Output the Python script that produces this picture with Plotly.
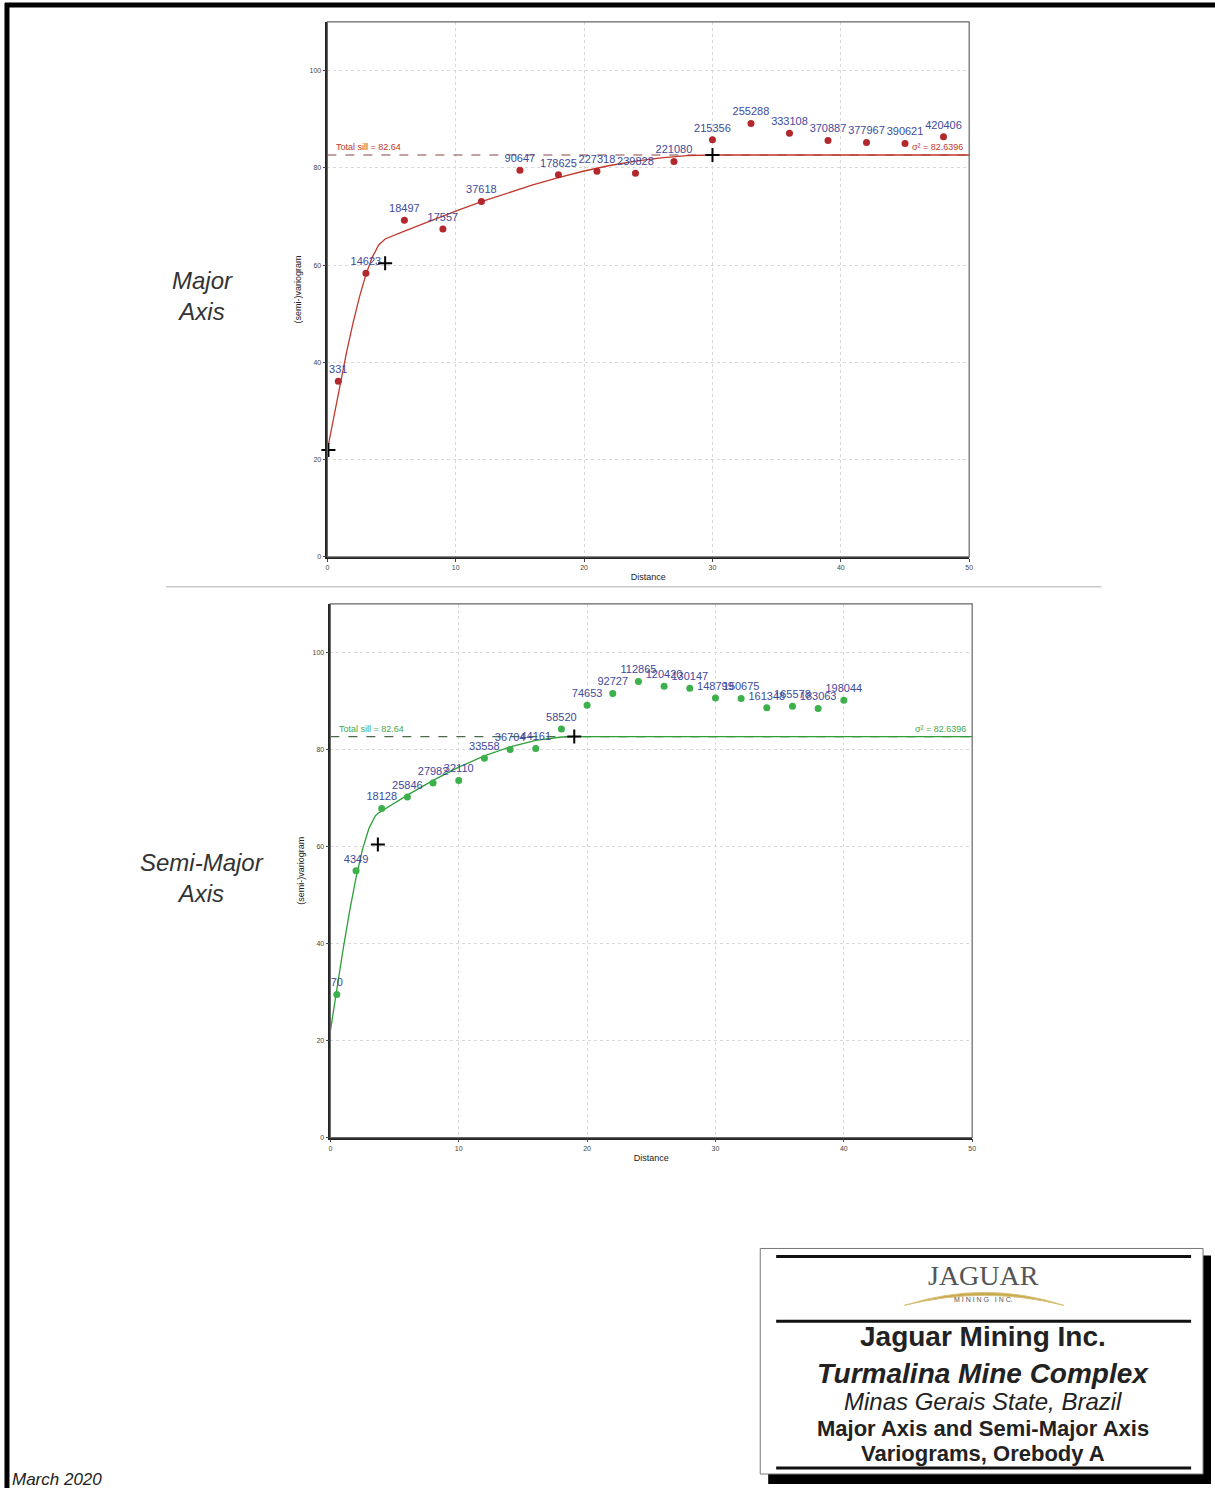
import plotly.graph_objects as go

W, H = 1215, 1488

# ---------------- Data: Major axis (top chart) ----------------
major_lag = [0.85, 3, 6, 9, 12, 15, 18, 21, 24, 27, 30, 33, 36, 39, 42, 45, 48]
major_gamma = [36.1, 58.3, 69.2, 67.4, 73.1, 79.5, 78.6, 79.3, 78.9, 81.3, 85.8, 89.1, 87.1, 85.6, 85.2, 85.0, 86.4]
major_pairs = ["331", "14623", "18497", "17557", "37618", "90647", "178625", "227318", "239828",
               "221080", "215356", "255288", "333108", "370887", "377967", "390621", "420406"]
major_model_h = [0, 0.5, 1, 1.5, 2, 2.5, 3, 3.5, 4, 4.5, 6, 8, 10, 12, 14, 16, 18, 20, 22, 24, 26, 28, 30, 50]
major_model_g = [22.0, 28.93, 35.70, 42.16, 48.13, 53.48, 58.04, 61.64, 64.14, 65.37, 66.98, 69.09, 71.11,
                 73.03, 74.84, 76.50, 78.01, 79.35, 80.48, 81.39, 82.07, 82.50, 82.64, 82.64]
major_struct_h = [0.08, 4.5, 30]
major_struct_g = [22.0, 60.4, 82.64]

# ---------------- Data: Semi-major axis (bottom chart) ----------------
semi_lag = [0.5, 2, 4, 6, 8, 10, 12, 14, 16, 18, 20, 22, 24, 26, 28, 30, 32, 34, 36, 38, 40]
semi_gamma = [29.5, 55.0, 67.8, 70.2, 73.1, 73.6, 78.2, 80.0, 80.2, 84.2, 89.1, 91.5, 94.0, 93.0,
              92.6, 90.6, 90.5, 88.6, 88.9, 88.4, 90.1]
semi_pairs = ["70", "4349", "18128", "25846", "27982", "32110", "33558", "36704", "44161", "58520",
              "74653", "92727", "112865", "120420", "130147", "148799", "150675", "161348", "165578",
              "183063", "198044"]
semi_model_h = [0, 0.5, 1, 1.5, 2, 2.5, 3, 3.5, 3.7, 4, 6, 8, 10, 12, 14, 16, 18, 19, 50]
semi_model_g = [22.0, 30.62, 38.94, 46.70, 53.60, 59.36, 63.69, 66.31, 66.81, 67.32, 70.58, 73.62,
                76.34, 78.67, 80.53, 81.85, 82.55, 82.64, 82.64]
semi_struct_h = [3.7, 19]
semi_struct_g = [60.4, 82.64]

total_sill = 82.64
sigma2 = 82.6396
x_ticks = [0, 10, 20, 30, 40, 50]
y_ticks = [0, 20, 40, 60, 80, 100]

FONT = "Liberation Sans, Arial, sans-serif"
LABEL_BLUE = "#3d4a9c"


def px_x(x):
    return x / W


def px_y(y):
    return 1 - y / H


fig = go.Figure()

charts = [
    dict(xa="x", ya="y", lag=major_lag, gam=major_gamma, pairs=major_pairs,
         mh=major_model_h, mg=major_model_g, sh=major_struct_h, sg=major_struct_g,
         mcol="#b3282d", lcol="#c0392b", dcol="#8a4444", tcol="#c0392b"),
    dict(xa="x2", ya="y2", lag=semi_lag, gam=semi_gamma, pairs=semi_pairs,
         mh=semi_model_h, mg=semi_model_g, sh=semi_struct_h, sg=semi_struct_g,
         mcol="#3cb04a", lcol="#2e9e3a", dcol="#4a6a4a", tcol="#45a84f"),
]

annotations = []
for c in charts:
    # dashed total sill line
    fig.add_trace(go.Scatter(x=[x_ticks[0], x_ticks[-1]], y=[total_sill, total_sill], mode="lines",
                             line=dict(color=c["dcol"], width=1.2, dash="dash"),
                             xaxis=c["xa"], yaxis=c["ya"], hoverinfo="skip", showlegend=False))
    # model curve
    fig.add_trace(go.Scatter(x=c["mh"], y=c["mg"], mode="lines",
                             line=dict(color=c["lcol"], width=1.3),
                             xaxis=c["xa"], yaxis=c["ya"], showlegend=False))
    # experimental points with pair counts
    fig.add_trace(go.Scatter(x=c["lag"], y=c["gam"], mode="markers+text", text=c["pairs"],
                             textposition="top center",
                             textfont=dict(family=FONT, size=11, color=LABEL_BLUE),
                             marker=dict(color=c["mcol"], size=7),
                             cliponaxis=False,
                             xaxis=c["xa"], yaxis=c["ya"], showlegend=False))
    # structure markers
    fig.add_trace(go.Scatter(x=c["sh"], y=c["sg"], mode="markers",
                             marker=dict(symbol="cross-thin", size=10, line=dict(color="black", width=2)),
                             cliponaxis=False,
                             xaxis=c["xa"], yaxis=c["ya"], showlegend=False))
    annotations.append(dict(x=0.5, y=total_sill, xref=c["xa"], yref=c["ya"], text="Total sill = 82.64",
                            showarrow=False, xanchor="left", yanchor="bottom", yshift=1,
                            font=dict(family=FONT, size=9, color=c["tcol"])))
    annotations.append(dict(x=49.7, y=total_sill, xref=c["xa"], yref=c["ya"],
                            text=f"σ² = {sigma2}", showarrow=False, xanchor="right",
                            yanchor="bottom", yshift=1,
                            font=dict(family=FONT, size=9, color=c["tcol"])))

axis_common = dict(showline=True, linecolor="#222", linewidth=1.5, mirror=False,
                   showgrid=True, gridcolor="#d9d9d9", griddash="dot", gridwidth=1,
                   zeroline=False, ticks="outside", ticklen=3, tickcolor="#444",
                   tickfont=dict(family=FONT, size=7, color="#444"))

fig.update_layout(
    width=W, height=H, autosize=False,
    margin=dict(l=0, r=0, t=0, b=0),
    paper_bgcolor="white", plot_bgcolor="white",
    xaxis=dict(domain=[px_x(327), px_x(972)], range=[0, 50], tickvals=x_ticks, anchor="y",
               title=dict(text="Distance", font=dict(family=FONT, size=9, color="#222"), standoff=4),
               **axis_common),
    yaxis=dict(domain=[px_y(558), px_y(22)], range=[0, 110], tickvals=y_ticks, anchor="x",
               title=dict(text="(semi-)variogram", font=dict(family=FONT, size=9, color="#222"), standoff=6),
               **axis_common),
    xaxis2=dict(domain=[px_x(330), px_x(975)], range=[0, 50], tickvals=x_ticks, anchor="y2",
                title=dict(text="Distance", font=dict(family=FONT, size=9, color="#222"), standoff=4),
                **axis_common),
    yaxis2=dict(domain=[px_y(1140), px_y(605)], range=[0, 110], tickvals=y_ticks, anchor="x2",
                title=dict(text="(semi-)variogram", font=dict(family=FONT, size=9, color="#222"), standoff=6),
                **axis_common),
)

shapes = []
# plot frames (top & right)
for xa, ya in (("x", "y"), ("x2", "y2")):
    shapes.append(dict(type="rect", xref=f"{xa} domain", yref=f"{ya} domain", x0=0, x1=1, y0=0, y1=1,
                       line=dict(color="#666", width=1.2), layer="above"))
# separator between charts
shapes.append(dict(type="line", xref="paper", yref="paper", x0=px_x(165), x1=px_x(1105),
                   y0=px_y(588), y1=px_y(588), line=dict(color="#c8c8c8", width=1.5)))
# page border (top & left)
shapes.append(dict(type="line", xref="paper", yref="paper", x0=px_x(3), x1=1.01,
                   y0=px_y(5), y1=px_y(5), line=dict(color="black", width=5)))
shapes.append(dict(type="line", xref="paper", yref="paper", x0=px_x(5), x1=px_x(5),
                   y0=px_y(3), y1=-0.01, line=dict(color="black", width=5)))
# title block shadow and box
shapes.append(dict(type="rect", xref="paper", yref="paper", x0=px_x(770), x1=px_x(1215),
                   y0=px_y(1487), y1=px_y(1258), fillcolor="black", line=dict(width=0)))
shapes.append(dict(type="rect", xref="paper", yref="paper", x0=px_x(762), x1=px_x(1207),
                   y0=px_y(1477), y1=px_y(1251), fillcolor="white", line=dict(color="#777", width=1)))
for yy in (1259, 1324, 1471):
    shapes.append(dict(type="line", xref="paper", yref="paper", x0=px_x(778), x1=px_x(1195),
                       y0=px_y(yy), y1=px_y(yy), line=dict(color="#111", width=3)))
# gold arc of the logo
arc = (f"M {px_x(907)},{px_y(1308)} Q {px_x(988)},{px_y(1282)} {px_x(1067)},{px_y(1308)} "
       f"Q {px_x(988)},{px_y(1288)} {px_x(907)},{px_y(1308)} Z")
shapes.append(dict(type="path", xref="paper", yref="paper", path=arc,
                   fillcolor="#c9a94e", line=dict(color="#d8c27a", width=1)))

fig.update_layout(shapes=shapes)

# side labels
annotations.append(dict(x=px_x(201), y=px_y(297), xref="paper", yref="paper", text="<i>Major<br>Axis</i>",
                        showarrow=False, xanchor="center", yanchor="middle",
                        font=dict(family=FONT, size=24, color="#333")))
annotations.append(dict(x=px_x(201), y=px_y(880), xref="paper", yref="paper",
                        text="<i>Semi-Major<br>Axis</i>", showarrow=False, xanchor="center", yanchor="middle",
                        font=dict(family=FONT, size=24, color="#333")))
# date
annotations.append(dict(x=px_x(8), y=px_y(1482), xref="paper", yref="paper", text="<i>March 2020</i>",
                        showarrow=False, xanchor="left", yanchor="middle",
                        font=dict(family=FONT, size=17, color="#222")))
# title block text
tb = [
    ("JAGUAR", 1278, 28, "Liberation Serif, DejaVu Serif, serif", "#555"),
    ("M I N I N G   I N C.", 1302, 7, FONT, "#555"),
    ("<b>Jaguar Mining Inc.</b>", 1339, 28, FONT, "#222"),
    ("<b><i>Turmalina Mine Complex</i></b>", 1376, 28, FONT, "#222"),
    ("<i>Minas Gerais State, Brazil</i>", 1404, 24, FONT, "#222"),
    ("<b>Major Axis and Semi-Major Axis</b>", 1431, 22, FONT, "#222"),
    ("<b>Variograms, Orebody A</b>", 1456, 22, FONT, "#222"),
]
for txt, yy, sz, fam, col in tb:
    annotations.append(dict(x=px_x(986), y=px_y(yy), xref="paper", yref="paper", text=txt,
                            showarrow=False, xanchor="center", yanchor="middle",
                            font=dict(family=fam, size=sz, color=col)))

fig.update_layout(annotations=annotations)

fig.write_html("out.html")
